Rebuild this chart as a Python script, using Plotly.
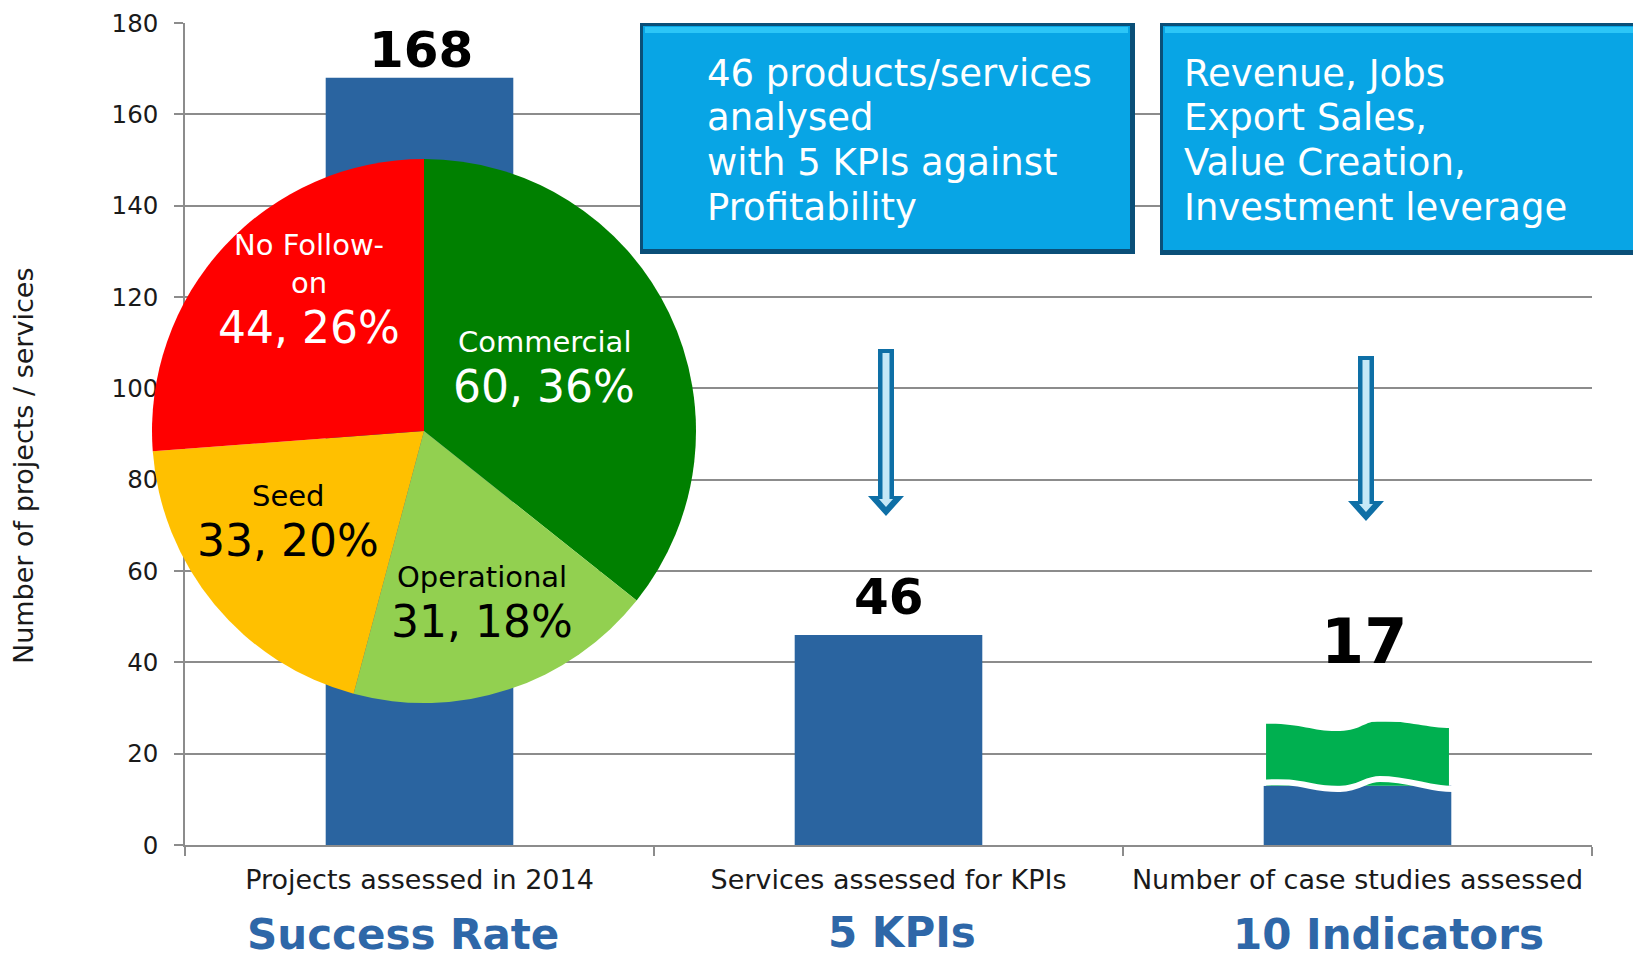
import plotly.graph_objects as go

# page body has an 8px margin: the figure is placed at (8, 8) in the window
OFF = 8
W, H = 1641, 959 - OFF

# ---------------- data ----------------
categories = ["Projects assessed in 2014", "Services assessed for KPIs", "Number of case studies assessed"]
bar_values = [168, 46, 17]
bar_labels = ["168", "46", "17"]
case_blue_part = [13]
case_green_base = [13]
case_green_part = [14]

pie_labels = ["Commercial", "Operational", "Seed", "No Follow-on"]
pie_values = [60, 31, 33, 44]
pie_pct = ["36%", "18%", "20%", "26%"]
pie_colors = ["#008000", "#92D050", "#FFC000", "#FF0000"]

y_ticks = [0, 20, 40, 60, 80, 100, 120, 140, 160, 180]
bottom_titles = ["Success Rate", "5 KPIs", "10 Indicators"]
box1_lines = ["46 products/services", "analysed", "with 5 KPIs against", "Profitability"]
box2_lines = ["Revenue, Jobs", "Export Sales,", "Value Creation,", "Investment leverage"]
y_title = "Number of projects / services"

FONT = "DejaVu Sans"
BAR_BLUE = "#2A64A0"
GRID = "#8C8C8C"


def px(x):
    return (x - OFF) / W


def py(y):
    return 1 - (y - OFF) / H


# plot area (window pixels)
L, R, T, B = 185, 1592, 23, 845

fig = go.Figure()

fig.add_trace(go.Bar(
    x=categories[:2], y=bar_values[:2], width=0.4,
    marker=dict(color=BAR_BLUE, line=dict(width=0)), showlegend=False, hoverinfo="skip"))
fig.add_trace(go.Bar(
    x=categories[2:], y=case_blue_part, width=0.4,
    marker=dict(color=BAR_BLUE, line=dict(width=0)), showlegend=False, hoverinfo="skip"))
fig.add_trace(go.Bar(
    x=categories[2:], y=case_green_part, base=case_green_base, width=0.39,
    marker=dict(color="#00B050", line=dict(width=0)), showlegend=False, hoverinfo="skip"))

# pie
cx, cy, r = 424, 431, 272
fig.add_trace(go.Pie(
    labels=pie_labels, values=pie_values, sort=False, direction="clockwise", rotation=0,
    marker=dict(colors=pie_colors, line=dict(width=0)),
    textinfo="none", showlegend=False, hoverinfo="skip",
    domain=dict(x=[px(cx - r), px(cx + r)], y=[py(cy + r), py(cy - r)])))

fig.update_layout(
    width=W, height=H, margin=dict(l=0, r=0, t=0, b=0, pad=0), autosize=False,
    paper_bgcolor="white", plot_bgcolor="white",
    barmode="overlay", showlegend=False,
    font=dict(family=FONT, color="#1A1A1A"),
    xaxis=dict(domain=[px(L), px(R)], type="category", range=[-0.5, 2.5], automargin=False,
               showline=True, linecolor=GRID, linewidth=1.5, fixedrange=True,
               ticks="outside", tickson="boundaries", ticklen=9, tickcolor=GRID, tickwidth=1.5,
               ticklabelstandoff=10,
               tickfont=dict(size=27, family=FONT, color="#1A1A1A"), showgrid=False),
    yaxis=dict(domain=[py(B), py(T)], range=[0, 180], tickvals=y_ticks, automargin=False,
               showline=True, linecolor=GRID, linewidth=1.5, fixedrange=True,
               ticks="outside", ticklen=9, tickcolor=GRID, tickwidth=1.5, ticklabelstandoff=11,
               showgrid=True, gridcolor=GRID, gridwidth=1.5, zeroline=False,
               tickfont=dict(size=24.5, family=FONT, color="#1A1A1A")),
)

shapes = []
annotations = []

# blue boxes
boxes = [((640, 23, 1135, 254), 705, box1_lines), ((1160, 23, 1680, 255), 1182, box2_lines)]
line_y = [73, 118, 162, 207]
for (x0, y0, x1, y1), tx, lines in boxes:
    shapes.append(dict(type="rect", xref="paper", yref="paper", x0=px(x0), x1=px(x1),
                       y0=py(y1), y1=py(y0), fillcolor="#0A4F78", line=dict(width=0), layer="above"))
    shapes.append(dict(type="rect", xref="paper", yref="paper", x0=px(x0 + 3), x1=px(x1 - 5),
                       y0=py(y1 - 5), y1=py(y0 + 3), fillcolor="#08A5E5", line=dict(width=0), layer="above"))
    shapes.append(dict(type="rect", xref="paper", yref="paper", x0=px(x0 + 5), x1=px(x1 - 7),
                       y0=py(y0 + 10), y1=py(y0 + 4), fillcolor="#2CC6F7", line=dict(width=0), layer="above"))
    for ly, t in zip(line_y, lines):
        annotations.append(dict(xref="paper", yref="paper", x=px(tx), y=py(ly), xanchor="left", yanchor="middle",
                                text=t, showarrow=False, align="left",
                                font=dict(family=FONT, size=37, color="white")))


def P(pts):
    return "M " + " L ".join(f"{px(a):.5f},{py(b):.5f}" for a, b in pts) + " Z"


# arrows
def arrow(xc, ytop, ybot):
    outer = [(xc - 8, ytop), (xc + 8, ytop), (xc + 8, ybot - 20), (xc + 18, ybot - 20), (xc, ybot),
             (xc - 18, ybot - 20), (xc - 8, ybot - 20)]
    inner = [(xc - 3.5, ytop + 4), (xc + 3.5, ytop + 4), (xc + 3.5, ybot - 17), (xc + 7, ybot - 17),
             (xc, ybot - 9), (xc - 7, ybot - 17), (xc - 3.5, ybot - 17)]
    return [dict(type="path", xref="paper", yref="paper", path=P(outer), fillcolor="#0E6FA6",
                 line=dict(width=0), layer="above"),
            dict(type="path", xref="paper", yref="paper", path=P(inner), fillcolor="#C5E8F7",
                 line=dict(width=0), layer="above")]


shapes += arrow(886, 349, 516)
shapes += arrow(1366, 356, 521)


# wavy "broken bar" decoration on the third bar
def cpath(cmds):
    out = []
    for c, pts in cmds:
        out.append(c + " " + " ".join(f"{px(a):.5f},{py(b):.5f}" for a, b in pts))
    return " ".join(out)


top_mask = cpath([("M", [(1260, 712)]), ("L", [(1260, 724)]),
                  ("C", [(1300, 722), (1312, 732), (1340, 731)]),
                  ("C", [(1362, 730), (1364, 721), (1380, 721)]),
                  ("C", [(1412, 721), (1430, 729), (1456, 728)]),
                  ("L", [(1456, 712)]), ("Z", [])])
shapes.append(dict(type="path", xref="paper", yref="paper", path=top_mask, fillcolor="white",
                   line=dict(width=0), layer="above"))
gap_wave = cpath([("M", [(1262, 783)]),
                  ("C", [(1300, 779), (1312, 790), (1340, 789)]),
                  ("C", [(1362, 788), (1364, 779), (1380, 779)]),
                  ("C", [(1412, 779), (1430, 790), (1455, 789)])])
shapes.append(dict(type="path", xref="paper", yref="paper", path=gap_wave,
                   line=dict(width=6, color="white"), layer="above"))

# bar value labels
label_pos = [(421, 50, 50), (889, 597, 50), (1364, 641, 62)]
for (x, y, s), t in zip(label_pos, bar_labels):
    annotations.append(dict(xref="paper", yref="paper", x=px(x), y=py(y), xanchor="center", yanchor="middle",
                            text=f"<b>{t}</b>", showarrow=False, font=dict(family=FONT, size=s, color="black")))

# pie labels
pie_label_pos = [(544, 342, 387), (482, 577, 621), (288, 496, 540), (309, 264, 327)]
pie_text_colors = ["white", "black", "black", "white"]
pie_label_text = ["Commercial", "Operational", "Seed", "No Follow-<br>on"]
for (x, y1, y2), lab, v, p, c in zip(pie_label_pos, pie_label_text, pie_values, pie_pct, pie_text_colors):
    annotations.append(dict(xref="paper", yref="paper", x=px(x), y=py(y1), xanchor="center", yanchor="middle",
                            text=lab, showarrow=False, font=dict(family=FONT, size=29, color=c)))
    annotations.append(dict(xref="paper", yref="paper", x=px(x), y=py(y2), xanchor="center", yanchor="middle",
                            text=f"{v}, {p}", showarrow=False, font=dict(family=FONT, size=44, color=c)))

# bottom titles
bottom_pos = [(403, 934), (902, 932), (1388, 934)]
for (x, y), t in zip(bottom_pos, bottom_titles):
    annotations.append(dict(xref="paper", yref="paper", x=px(x), y=py(y), xanchor="center", yanchor="middle",
                            text=f"<b>{t}</b>", showarrow=False, font=dict(family=FONT, size=42, color="#2E67A8")))

# y axis title
annotations.append(dict(xref="paper", yref="paper", x=px(23), y=py(466), xanchor="center", yanchor="middle",
                        text=y_title, textangle=-90, showarrow=False,
                        font=dict(family=FONT, size=27, color="#1A1A1A")))

fig.update_layout(shapes=shapes, annotations=annotations)
fig.write_html("out.html")
